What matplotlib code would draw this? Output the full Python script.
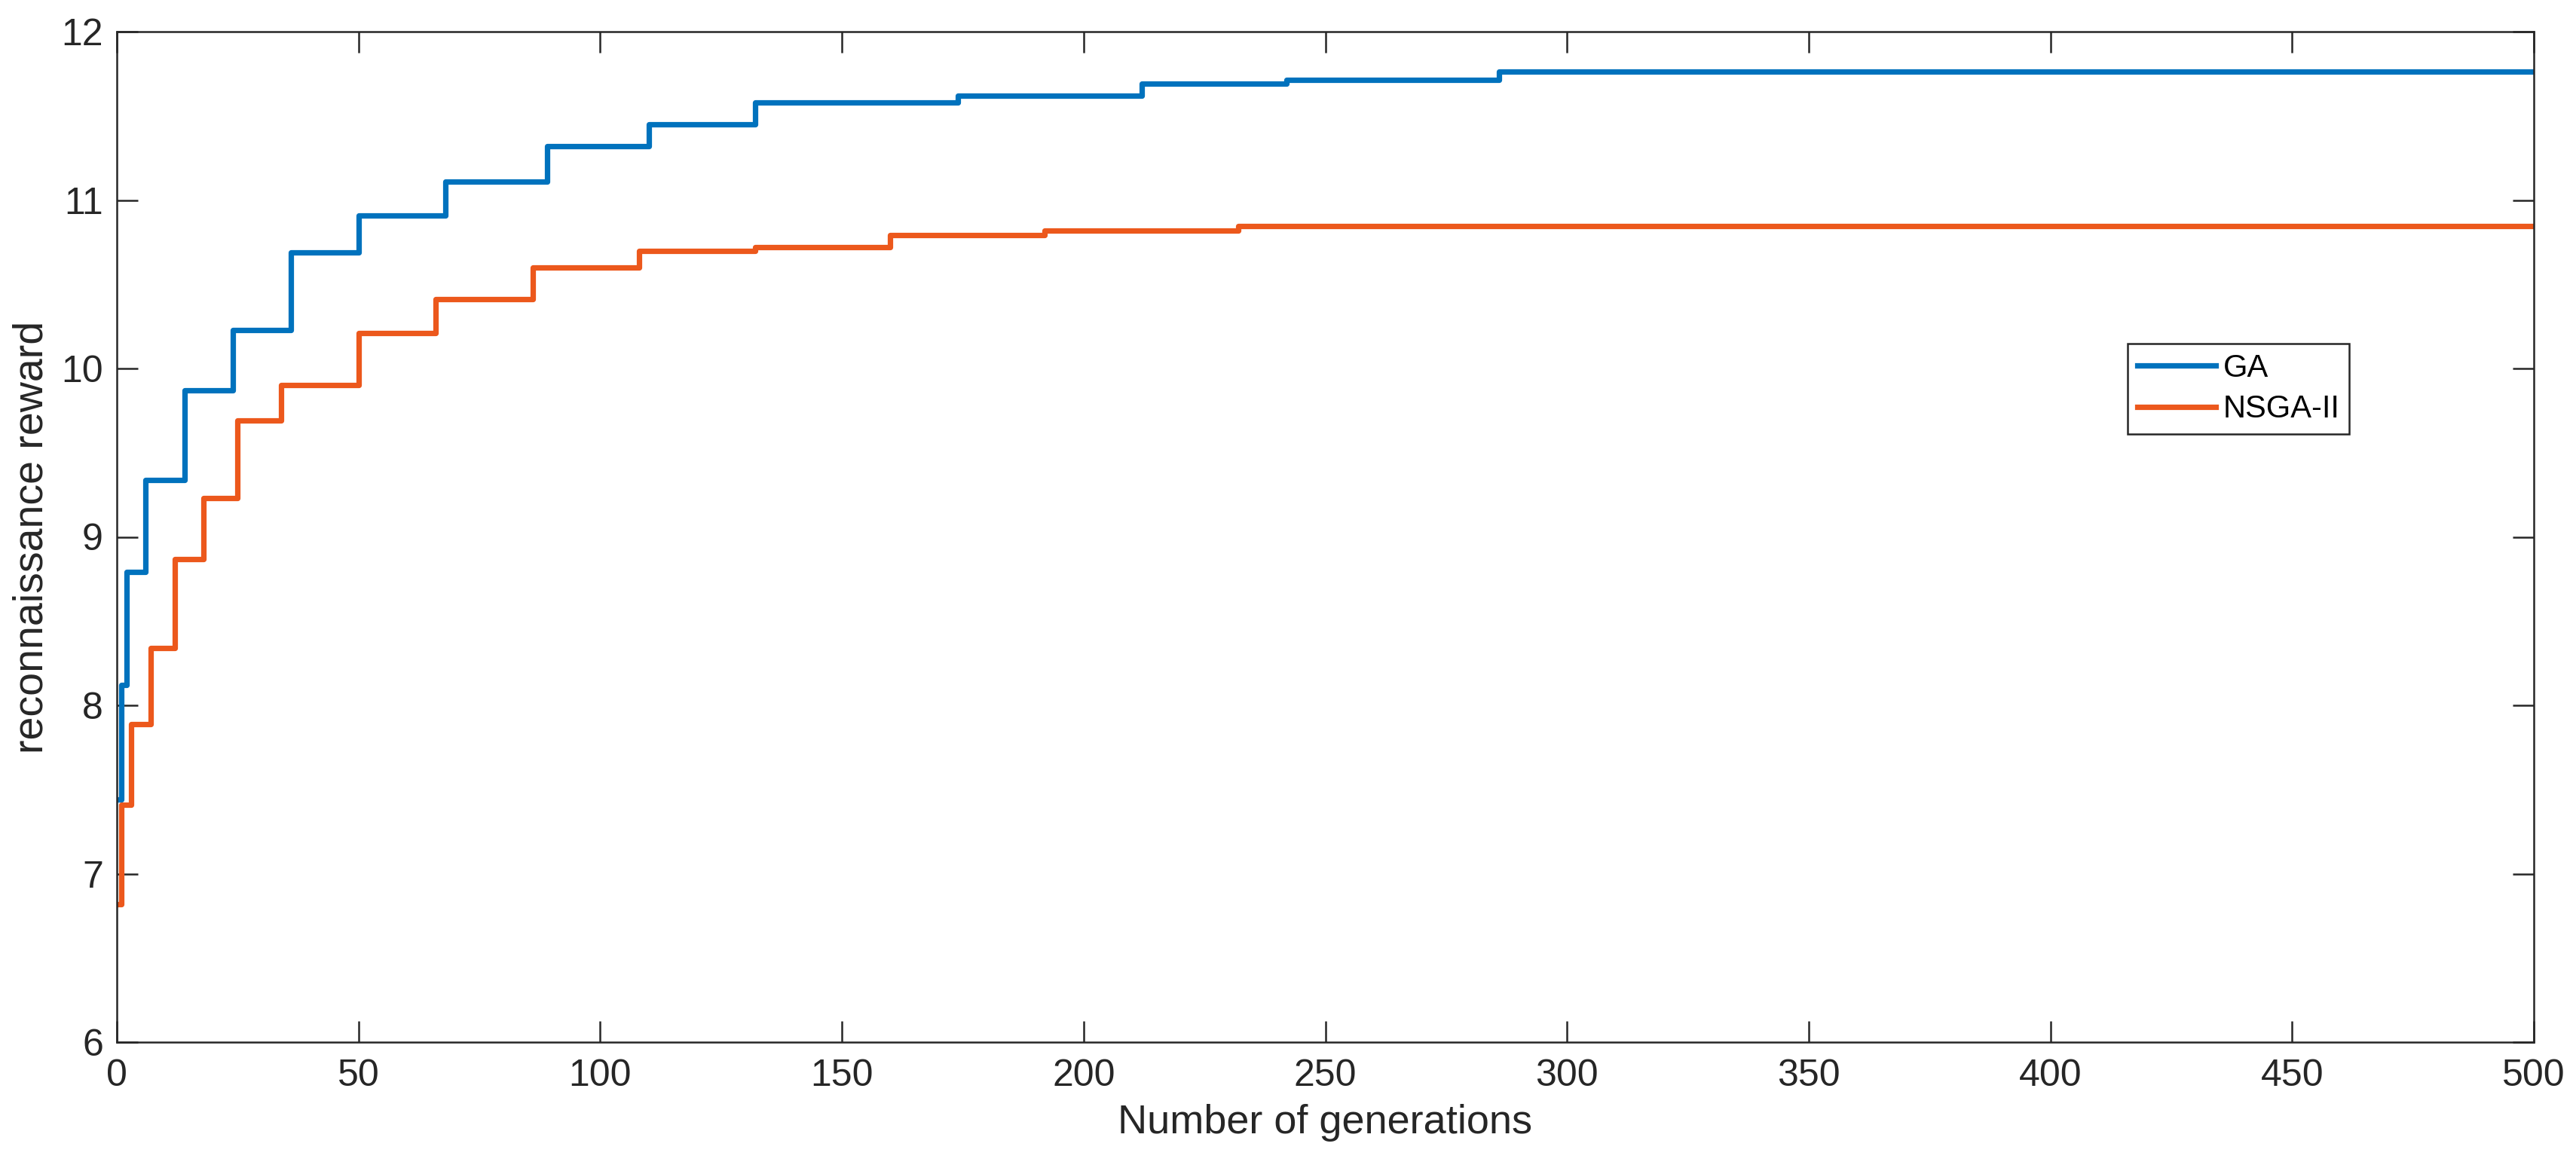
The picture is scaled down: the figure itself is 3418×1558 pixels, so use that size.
import matplotlib
matplotlib.use("Agg")
import matplotlib.pyplot as plt

# generation at which each new best value appears, and the value itself
ga_gen = [0, 1, 2, 6, 14, 24, 36, 50, 68, 89, 110, 132, 174, 212, 242, 286, 500]
ga_reward = [7.44, 8.12, 8.79, 9.34, 9.87, 10.23, 10.69, 10.91, 11.11, 11.32,
             11.45, 11.58, 11.62, 11.69, 11.715, 11.765, 11.765]

nsga_gen = [0, 1, 3, 7, 12, 18, 25, 34, 50, 66, 86, 108, 132, 160, 192, 232, 500]
nsga_reward = [6.82, 7.41, 7.89, 8.34, 8.87, 9.23, 9.69, 9.90, 10.21, 10.41,
               10.60, 10.70, 10.72, 10.79, 10.82, 10.845, 10.845]

x_ticks = [0, 50, 100, 150, 200, 250, 300, 350, 400, 450, 500]
y_ticks = [6, 7, 8, 9, 10, 11, 12]

plt.rcParams['font.family'] = ['Liberation Sans', 'DejaVu Sans']

fig = plt.figure(figsize=(3418 / 200, 1558 / 200), dpi=200)
ax = fig.add_axes([155 / 3418, 1 - 1383 / 1558, 3207 / 3418, 1341 / 1558])

ax.step(ga_gen, ga_reward, where='post', color='#0072BD', linewidth=2.6, label='GA')
ax.step(nsga_gen, nsga_reward, where='post', color='#EC581C', linewidth=2.6, label='NSGA-II')

ax.set_xlim(0, 500)
ax.set_ylim(6, 12)
ax.set_xticks(x_ticks)
ax.set_yticks(y_ticks)

dark = '#262626'
for s in ax.spines.values():
    s.set_linewidth(0.9)
    s.set_color(dark)
ax.tick_params(direction='in', length=10, width=0.9, colors=dark, labelsize=18,
               top=True, right=True)
ax.tick_params(axis='x', pad=8)
ax.tick_params(axis='y', pad=6.5)

ax.set_xlabel('Number of generations', fontsize=19.5, color=dark, labelpad=5)
ax.set_ylabel('reconnaissance reward', fontsize=20, color=dark)
ax.yaxis.set_label_coords(-0.027, 0.5)

leg = ax.legend(loc='upper left', bbox_to_anchor=(2823 / 3418, 1 - 456 / 1558),
                bbox_transform=fig.transFigure, borderaxespad=0, fontsize=15,
                handlelength=2.5, handletextpad=0.25, labelspacing=0.35,
                borderpad=0.3, fancybox=False, framealpha=1)
leg.get_frame().set_edgecolor(dark)
leg.get_frame().set_linewidth(0.9)

fig.savefig('out.png', dpi=200)
